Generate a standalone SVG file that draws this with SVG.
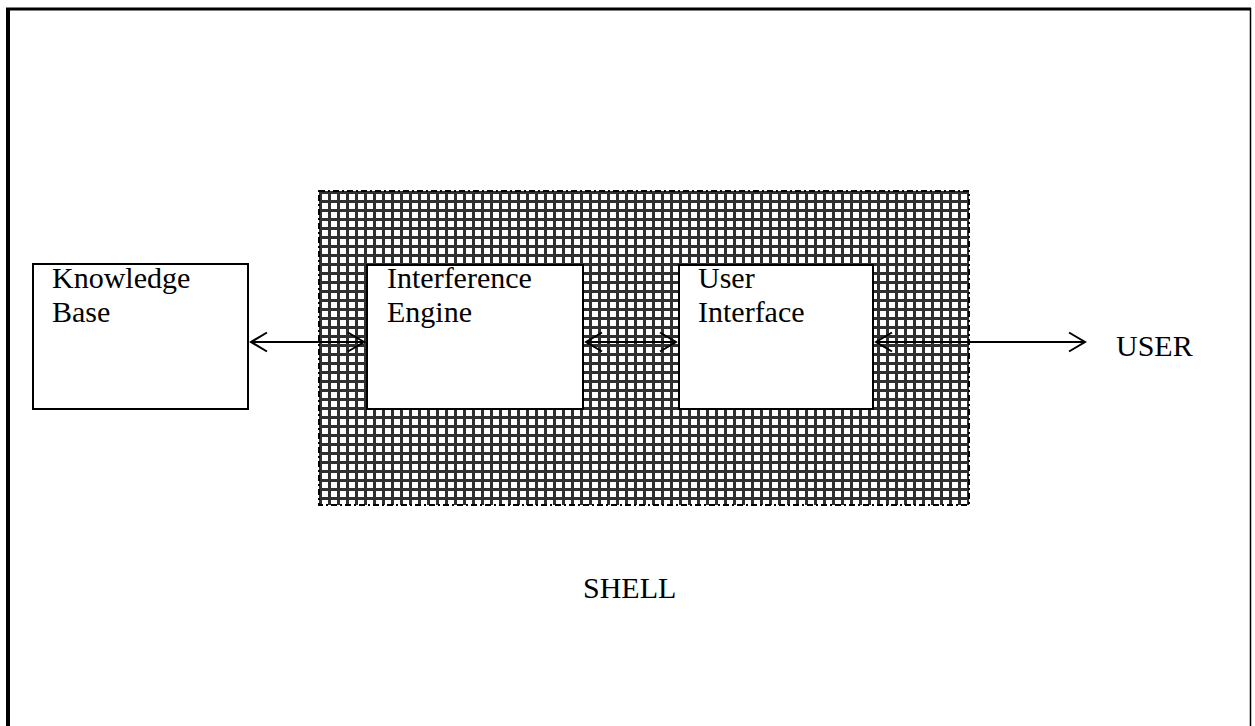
<svg xmlns="http://www.w3.org/2000/svg" width="1255" height="726" viewBox="0 0 1255 726">
  <style>
    .box { fill: #ffffff; stroke: #000000; stroke-width: 2; }
    .lbl { font-family: "Liberation Serif", "Times New Roman", serif; font-size: 30px; fill: #000000; }
    .conn { stroke: #000000; stroke-width: 2; fill: none; }
  </style>
  <defs>
    <pattern id="mesh" x="319" y="191" width="9" height="9" patternUnits="userSpaceOnUse">
      <rect width="9" height="9" fill="#ffffff"/>
      <rect x="0" y="0" width="9" height="3" fill="#303030"/>
      <rect x="0" y="0" width="3" height="9" fill="#303030"/>
    </pattern>
    <marker id="head" markerWidth="20" markerHeight="22" refX="17" refY="11" orient="auto-start-reverse" markerUnits="userSpaceOnUse">
      <path d="M1,1.5 L17,11 L1,20.5" fill="none" stroke="#000000" stroke-width="2"/>
    </marker>
  </defs>

  <rect width="1255" height="726" fill="#ffffff"/>

  <!-- page frame -->
  <g id="frame">
    <line x1="8" y1="8" x2="8" y2="726" stroke="#000000" stroke-width="4"/>
    <line x1="6" y1="9" x2="1251" y2="9" stroke="#000000" stroke-width="3"/>
    <line x1="1250.5" y1="8" x2="1250.5" y2="726" stroke="#000000" stroke-width="1.5"/>
  </g>

  <!-- shell region -->
  <g id="shell">
    <rect x="319" y="191" width="650" height="314" fill="url(#mesh)" stroke="#000000" stroke-width="2" stroke-dasharray="6 3 2 3"/>
    <text class="lbl" x="583" y="598">SHELL</text>
  </g>

  <g id="knowledge-base">
    <rect class="box" x="33" y="264" width="215" height="145"/>
    <text class="lbl" x="52" y="288">Knowledge</text>
    <text class="lbl" x="52" y="322">Base</text>
  </g>

  <g id="inference-engine">
    <rect class="box" x="367" y="265" width="216" height="144"/>
    <text class="lbl" x="387" y="288">Interference</text>
    <text class="lbl" x="387" y="322">Engine</text>
  </g>

  <g id="user-interface">
    <rect class="box" x="679" y="265" width="194" height="144"/>
    <text class="lbl" x="698" y="288">User</text>
    <text class="lbl" x="698" y="322">Interface</text>
  </g>

  <g id="user">
    <text class="lbl" x="1116" y="356">USER</text>
  </g>

  <!-- connectors -->
  <g id="connectors">
    <line class="conn" x1="251" y1="342" x2="364" y2="342" marker-start="url(#head)" marker-end="url(#head)"/>
    <line class="conn" x1="586" y1="342" x2="676" y2="342" marker-start="url(#head)" marker-end="url(#head)"/>
    <line class="conn" x1="876" y1="342" x2="1085" y2="342" marker-start="url(#head)" marker-end="url(#head)"/>
  </g>
</svg>
